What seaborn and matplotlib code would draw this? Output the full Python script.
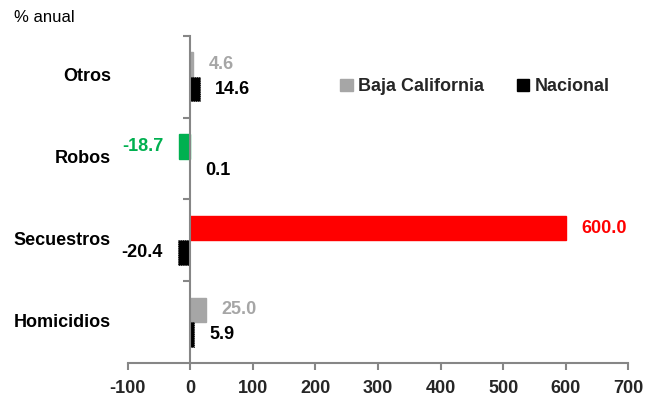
import matplotlib
matplotlib.use("Agg")
import matplotlib.pyplot as plt
import matplotlib.transforms as mtransforms
from matplotlib.patches import Patch
import pandas as pd
import seaborn as sns

# data (top to bottom)
categorias = ['Otros', 'Robos', 'Secuestros', 'Homicidios']
baja_california = [4.6, -18.7, 600.0, 25.0]
nacional = [14.6, 0.1, -20.4, 5.9]
series = ['Baja California', 'Nacional']
x_ticks = [-100, 0, 100, 200, 300, 400, 500, 600, 700]

gris = '#A6A6A6'
colores_bc = [gris, '#00B050', '#FF0000', gris]
eje = '#868686'

df = pd.DataFrame({
    'categoria': categorias * 2,
    'valor': baja_california + nacional,
    'serie': [series[0]] * 4 + [series[1]] * 4,
})

sns.set_theme(style='white')
plt.rcParams['font.family'] = ['Liberation Sans Narrow', 'Liberation Sans', 'DejaVu Sans']
plt.rcParams['font.weight'] = 'bold'

fig = plt.figure(figsize=(6.49, 4.01), dpi=100)
ax = fig.add_axes([0.197, 0.095, 0.771, 0.815])

sns.barplot(data=df, x='valor', y='categoria', hue='serie', orient='h',
            order=categorias, hue_order=series, palette=[gris, 'black'],
            width=0.6, dodge=True, legend=False, ax=ax, saturation=1)

# colours per bar + value labels
bc_bars, nac_bars = ax.containers[0], ax.containers[1]
for bar, v, c in zip(bc_bars, baja_california, colores_bc):
    bar.set_facecolor(c)
    bar.set_edgecolor(c)
    ax.annotate(f'{v:.1f}', (v, bar.get_y() + bar.get_height() / 2),
                xytext=(11 if v >= 0 else -11, 0), textcoords='offset points',
                ha='left' if v >= 0 else 'right', va='center',
                color=c, fontsize=13, fontweight='bold')
for bar, v in zip(nac_bars, nacional):
    bar.set_facecolor('black')
    bar.set_edgecolor('black')
    bar.set_linestyle(':')
    bar.set_linewidth(0.6)
    ax.annotate(f'{v:.1f}', (v, bar.get_y() + bar.get_height() / 2),
                xytext=(11 if v >= 0 else -11, 0), textcoords='offset points',
                ha='left' if v >= 0 else 'right', va='center',
                color='black', fontsize=13, fontweight='bold')

ax.set_xlim(-100, 700)
ax.set_ylim(3.5, -0.5)
ax.set_xticks(x_ticks)
ax.set_xticklabels([str(t) for t in x_ticks], fontsize=13, fontweight='bold')
ax.set_xlabel('')
ax.set_ylabel('')

for s in ['top', 'right']:
    ax.spines[s].set_visible(False)
ax.spines['left'].set_position(('data', 0))
for s in ['left', 'bottom']:
    ax.spines[s].set_color(eje)
    ax.spines[s].set_linewidth(1.5)

ax.tick_params(axis='x', direction='out', length=5, width=1.5, color=eje,
               pad=7, bottom=True)
ax.set_yticks([0.5, 1.5, 2.5, -0.5], minor=True)
ax.set_yticks(range(len(categorias)))
ax.set_yticklabels([])
ax.tick_params(axis='y', which='major', length=0, left=False)
ax.tick_params(axis='y', which='minor', direction='out', length=5, width=1.5,
               color=eje, left=True)

trans = mtransforms.blended_transform_factory(ax.transAxes, ax.transData)
for i, cat in enumerate(categorias):
    ax.text(-0.034, i, cat, transform=trans, ha='right', va='center',
            fontsize=13, fontweight='bold', color='black')

handles = [Patch(facecolor=gris, edgecolor=gris, label=series[0]),
           Patch(facecolor='black', edgecolor='black', label=series[1])]
ax.legend(handles=handles, loc='center left', bbox_to_anchor=(0.395, 0.845),
          ncol=2, frameon=False, handlelength=0.7, handleheight=0.7,
          handletextpad=0.3, columnspacing=1.8, borderpad=0.3,
          prop={'size': 13, 'weight': 'bold'})

fig.text(0.022, 0.957, '% anual', fontsize=12, fontweight='normal',
         ha='left', va='center', color='black')

fig.savefig('out.png', dpi=100)
